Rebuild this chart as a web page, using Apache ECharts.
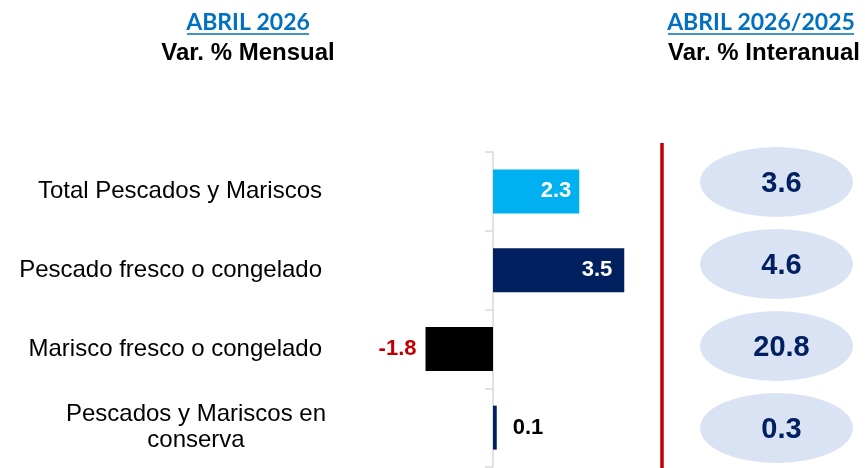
<!DOCTYPE html>
<html><head><meta charset="utf-8">
<script src="https://cdn.jsdelivr.net/npm/echarts@6/dist/echarts.min.js"></script>
<style>html,body{margin:0;padding:0;background:#fff}#c{width:865px;height:468px}</style>
</head><body><div id="c"></div>
<script>
// ---- data ----
const categories = ['Total Pescados y Mariscos', 'Pescado fresco o congelado', 'Marisco fresco o congelado', 'Pescados y Mariscos en\nconserva'];
const monthlyVar = [2.3, 3.5, -1.8, 0.1];
const yearlyVar = [3.6, 4.6, 20.8, 0.3];
const headerPeriodLeft = 'ABRIL 2026';
const headerSubLeft = 'Var. % Mensual';
const headerPeriodRight = 'ABRIL 2026/2025';
const headerSubRight = 'Var. % Interanual';

// ---- styles ----
const barColors = ['#00B0F0', '#002060', '#000000', '#002060'];
const labelPos = ['insideRight', 'insideRight', 'left', 'right'];
const labelDist = [8, 12, 9, 16];
const labelColors = ['#ffffff', '#ffffff', '#C00000', '#000000'];

const chart = echarts.init(document.getElementById('c'), null, {renderer: 'canvas'});
const ARIAL = '"Liberation Sans", Arial, sans-serif';
const CAL = 'Lato, "Open Sans", sans-serif';

const option = {
  animation: false,
  backgroundColor: '#ffffff',
  grid: [
    {left: 418, width: 225, top: 152, height: 315, containLabel: false, outerBoundsMode: 'none'},
    {left: 700, width: 153, top: 141, height: 328, containLabel: false, outerBoundsMode: 'none'}
  ],
  xAxis: [
    {gridIndex: 0, type: 'value', min: -2, max: 4, show: false, splitLine: {show: false}},
    {gridIndex: 1, type: 'value', min: 0, max: 1, show: false, splitLine: {show: false}}
  ],
  yAxis: [
    {
      gridIndex: 0, type: 'category', data: categories, inverse: true,
      axisLine: {show: true, onZero: true, lineStyle: {color: '#D9D9D9', width: 1.5}},
      axisTick: {show: true, length: 8, lineStyle: {color: '#D9D9D9', width: 1.5}},
      axisLabel: {
        margin: 96, align: 'right', color: '#000', fontFamily: ARIAL, fontSize: 24,
        formatter: function (v) {
          if (v.indexOf('\n') >= 0) {
            return v.split('\n').map(s => '{c|' + s + '}').join('\n');
          }
          return v;
        },
        rich: {c: {width: 252, align: 'center', fontFamily: ARIAL, fontSize: 24, color: '#000', lineHeight: 26}}
      },
      splitLine: {show: false}
    },
    {gridIndex: 1, type: 'category', data: categories, inverse: true, show: false}
  ],
  series: [
    {
      type: 'bar', xAxisIndex: 0, yAxisIndex: 0, barWidth: 44,
      data: monthlyVar.map((v, i) => ({
        value: v,
        itemStyle: {color: barColors[i]},
        label: {show: true, position: labelPos[i], distance: labelDist[i], color: labelColors[i]}
      })),
      label: {show: true, fontFamily: ARIAL, fontSize: 22, fontWeight: 'bold', formatter: p => p.value.toFixed(1)}
    },
    {
      type: 'scatter', xAxisIndex: 1, yAxisIndex: 1, symbol: 'circle', symbolSize: [153, 70],
      itemStyle: {color: '#DAE3F3', opacity: 1},
      data: yearlyVar.map((v, i) => [0.5, i, v]),
      label: {show: true, position: 'inside', offset: [5, 2], color: '#002060', fontFamily: ARIAL, fontSize: 29, fontWeight: 'bold',
        formatter: p => p.value[2].toFixed(1)}
    }
  ],
  graphic: [
    {type: 'text', x: 248, y: 23, style: {text: headerPeriodLeft, fill: '#0070C0', font: 'bold 23px ' + CAL, textAlign: 'center', textVerticalAlign: 'middle'}},
    {type: 'line', shape: {x1: 187, y1: 34, x2: 309, y2: 34}, style: {stroke: '#0070C0', lineWidth: 1.5}},
    {type: 'text', x: 248, y: 53, style: {text: headerSubLeft, fill: '#000', font: 'bold 24px ' + ARIAL, textAlign: 'center', textVerticalAlign: 'middle'}},
    {type: 'text', x: 761, y: 23, style: {text: headerPeriodRight, fill: '#0070C0', font: 'bold 23px ' + CAL, textAlign: 'center', textVerticalAlign: 'middle'}},
    {type: 'line', shape: {x1: 668, y1: 34, x2: 854, y2: 34}, style: {stroke: '#0070C0', lineWidth: 1.5}},
    {type: 'text', x: 764, y: 53, style: {text: headerSubRight, fill: '#000', font: 'bold 24px ' + ARIAL, textAlign: 'center', textVerticalAlign: 'middle'}},
    {type: 'line', shape: {x1: 662, y1: 143, x2: 662, y2: 468}, style: {stroke: '#C00000', lineWidth: 3.5}}
  ]
};
chart.setOption(option);
</script>
</body></html>
